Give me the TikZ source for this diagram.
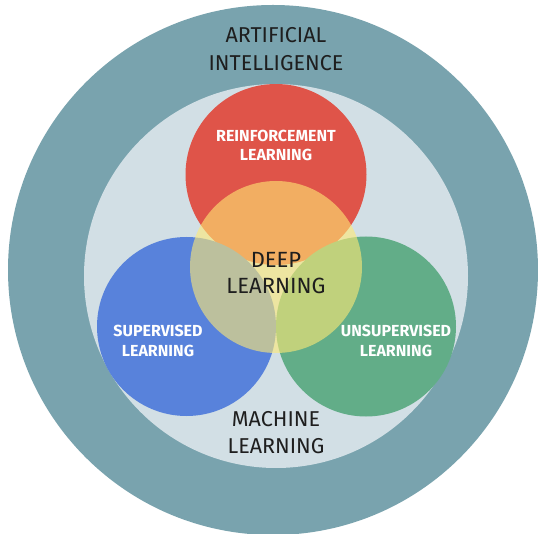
\documentclass[tikz,border=0pt]{standalone}
\usepackage{fontspec}
\setmainfont{Fira Sans}
\definecolor{aiC}{HTML}{79A3AE}
\definecolor{mlC}{HTML}{D2DFE5}
\definecolor{rlC}{HTML}{DF5449}
\definecolor{slC}{HTML}{5882DB}
\definecolor{ulC}{HTML}{62AD88}
\definecolor{dlC}{HTML}{FFEA74}
\definecolor{txtC}{HTML}{1E1E1E}
\begin{document}
\begin{tikzpicture}[x=1pt,y=-1pt,
  big/.style={inner sep=0pt, align=center, anchor=base, text=txtC,
     font={\fontsize{21.5}{27.4}\selectfont}},
  small/.style={inner sep=0pt, align=center, anchor=base, text=white,
     font={\bfseries\fontsize{16}{19.2}\selectfont}}]
\useasboundingbox (0,0) rectangle (538,534);
\fill[white] (0,0) rectangle (538,534);
\fill[aiC] (273,270) circle[radius=265];
\fill[mlC] (276,276) circle[radius=192];
\fill[rlC] (276,174.5) circle[radius=90.5];
\fill[slC] (186.5,326.5) circle[radius=89.5];
\fill[ulC] (366,326.5) circle[radius=90];
\fill[dlC, fill opacity=0.6] (276,267) circle[radius=86];
\node[big] (ai) at (276,70.3) {ARTIFICIAL\\INTELLIGENCE};
\node[big] (ml) at (276,453.5) {MACHINE\\LEARNING};
\node[big, font={\fontsize{22}{25.7}\selectfont}] (dl) at (276,293.3) {DEEP\\LEARNING};
\node[small] (rl) at (276,160.5) {REINFORCEMENT\\LEARNING};
\node[small] (sl) at (158,356) {SUPERVISED\\LEARNING};
\node[small] (ul) at (396,356) {UNSUPERVISED\\LEARNING};
\end{tikzpicture}
\end{document}
